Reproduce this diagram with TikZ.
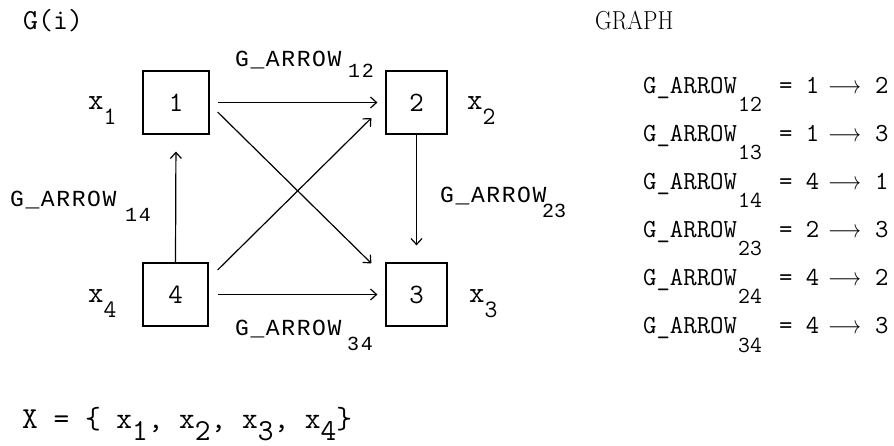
\documentclass[tikz,border=0pt]{standalone}
\usepackage{fontspec}
\usepackage{graphicx}
\newfontfamily\labelmono{Liberation Mono}
\usetikzlibrary{arrows.meta,calc}

% letter-spaced edge names and lowered subscripts
\newcommand\lsp{\kern1.6pt}
\newcommand\garrow{G\lsp\_\lsp A\lsp R\lsp R\lsp O\lsp W}
\newcommand\dn[2]{\lower#1\hbox{#2}}
\newcommand\ttsize[1]{\ttfamily\fontsize{#1}{#1}\selectfont}

\begin{document}
\begin{tikzpicture}[x=1pt,y=-1pt,
  box/.style={draw, line width=1.2pt, inner sep=0pt, minimum height=63pt,
    font=\ttsize{28}},
  edge/.style={line width=1.2pt, -{Straight Barb[length=6pt,width=11pt]}},
  txt/.style={inner sep=0pt, anchor=base west},
  glab/.style={txt, font=\labelmono\fontsize{23}{23}\selectfont},
  gsub/.style={txt, font=\labelmono\fontsize{20}{20}\selectfont},
  rowmain/.style={txt, font=\ttsize{26}},
  rowsub/.style={txt, font=\ttsize{23}},
  var/.style={txt, font=\ttsize{30}}]
\useasboundingbox (0,0) rectangle (894,446);

% headings
\node[txt, font=\ttsize{29}] (title) at (23,30) {G(i)};
\node[txt, font=\rmfamily\fontsize{26}{26}\selectfont] (graph) at (595,30)
  {\scalebox{0.88}[1]{GRAPH}};

% vertices
\node[box, minimum width=66pt] (b1) at (176,102.5) {1};
\node[box, minimum width=61pt] (b2) at (416.5,102.5) {2};
\node[box, minimum width=61pt] (b3) at (416.5,294.5) {3};
\node[box, minimum width=65pt] (b4) at (175.5,294.5) {4};

% vertex variables
\node[var] (x1) at (88,110) {x\dn{15pt}{\ttsize{25}1}};
\node[var] (x2) at (467,110) {x\dn{15pt}{\ttsize{25}2}};
\node[var] (x3) at (469,302) {x\dn{15pt}{\ttsize{25}3}};
\node[var] (x4) at (88,302) {x\dn{15pt}{\ttsize{25}4}};

% edges
\draw[edge, shorten <=8pt, shorten >=8pt] (b1.east) -- (b2.west);
\draw[edge, shorten <=9pt, shorten >=8pt] (b4.east) -- (b3.west);
\draw[edge, shorten >=17pt] (b4.north) -- (b1.south);
\draw[edge, shorten >=17pt] (b2.south) -- (b3.north);
\coordinate (s13) at ($(b1.east)+(8,9.5)$);
\coordinate (e13) at ($(b3.north west)+(-14,1)$);
\draw[edge] (s13) -- (e13);
\coordinate (s42) at ($(b4.east)+(9,-24.5)$);
\coordinate (e42) at ($(b2.west)+(-14,15.5)$);
\draw[edge] (s42) -- (e42);

% edge names
\node[glab] (l12) at (235,67) {\garrow};
\node[gsub] (l12s) at (348,78) {1\lsp 2};
\node[glab] (l14) at (10,207) {\garrow};
\node[gsub] (l14s) at (125,222) {1\lsp 4};
\node[glab] (l23) at (440,203) {\garrow};
\node[gsub] (l23s) at (542,218) {23};
\node[glab] (l34) at (235,335) {\garrow};
\node[gsub] (l34s) at (347,350) {3\lsp 4};

% edge list
\foreach \k/\s/\a/\b in {0/12/1/2, 1/13/1/3, 2/14/4/1, 3/23/2/3, 4/24/4/2, 5/34/4/3}{
  \pgfmathsetmacro\yb{94+48*\k}
  \node[rowmain] (r\s) at (643,\yb) {G\_ARROW};
  \node[rowsub] (r\s s) at (738,\yb+18) {\s};
  \node[rowmain] (r\s e) at (779,\yb) {= \a};
  \node[rowmain] (r\s a) at (828,\yb) {\scalebox{0.82}[1]{$\longrightarrow$}};
  \node[rowmain] (r\s t) at (875,\yb) {\b};
}

% vertex set
\node[txt, font=\ttsize{30.5}] (set) at (22,428)
  {X = \{ x\dn{12pt}{1}, x\dn{12pt}{2}, x\dn{12pt}{3}, x\dn{12pt}{4}\}};
\end{tikzpicture}
\end{document}
